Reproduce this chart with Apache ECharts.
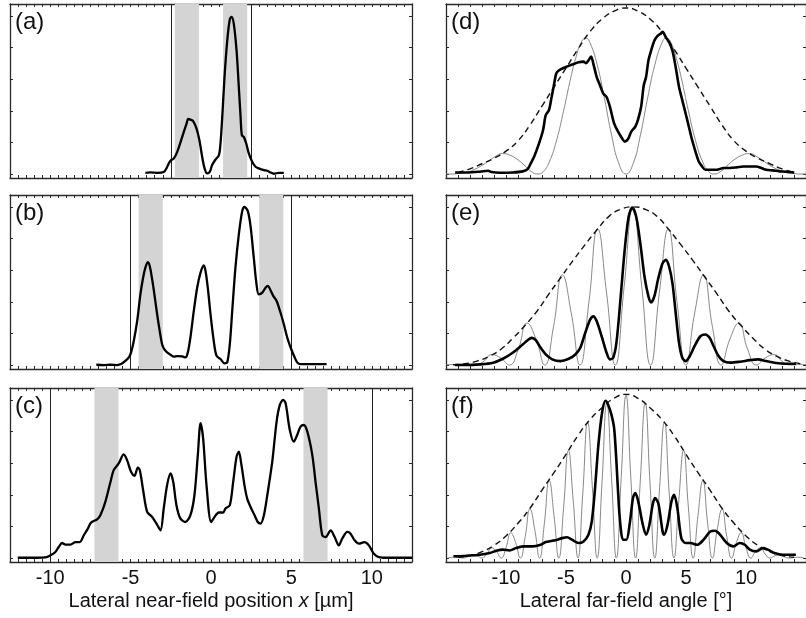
<!DOCTYPE html>
<html>
<head>
<meta charset="utf-8">
<script src="https://cdn.jsdelivr.net/npm/echarts@6/dist/echarts.min.js"></script>
<style>
html,body{margin:0;padding:0;background:#fff}
#chart{width:806px;height:618px}
</style>
</head>
<body>
<div id="chart"></div>
<script>
// ---- Near-field intensity profiles: [x in µm, normalised intensity] ----
const nearA = [[-4.08,0.008],[-3.76,0.010],[-3.35,0.008],[-2.94,0.013],[-2.77,0.036],[-2.63,0.067],[-2.48,0.088],[-2.31,0.099],[-2.10,0.140],[-1.79,0.235],[-1.52,0.319],[-1.42,0.348],[-1.28,0.344],[-1.11,0.335],[-0.90,0.287],[-0.72,0.214],[-0.55,0.109],[-0.40,0.036],[-0.24,0.004],[-0.07,0.015],[0.07,0.057],[0.28,0.092],[0.49,0.119],[0.59,0.193],[0.70,0.361],[0.84,0.612],[1.01,0.843],[1.17,0.979],[1.28,0.994],[1.42,0.948],[1.59,0.780],[1.73,0.55],[1.84,0.36],[1.92,0.245],[2.04,0.235],[2.19,0.193],[2.35,0.130],[2.56,0.078],[2.77,0.046],[2.97,0.036],[3.29,0.025],[3.50,0.021],[3.70,0.010],[3.91,0.002],[4.22,0.008],[4.53,0.008]];
const nearB = [[-7.13,0.002],[-6.67,0.0],[-6.25,0.002],[-5.84,0.0],[-5.59,0.006],[-5.32,0.027],[-5.11,0.048],[-4.97,0.080],[-4.80,0.153],[-4.59,0.279],[-4.39,0.447],[-4.22,0.553],[-4.08,0.616],[-3.93,0.651],[-3.81,0.626],[-3.66,0.542],[-3.52,0.447],[-3.35,0.321],[-3.19,0.216],[-3.04,0.132],[-2.89,0.097],[-2.73,0.080],[-2.52,0.065],[-2.31,0.053],[-2.10,0.057],[-1.79,0.055],[-1.59,0.048],[-1.44,0.080],[-1.28,0.174],[-1.07,0.342],[-0.86,0.489],[-0.65,0.584],[-0.45,0.630],[-0.34,0.595],[-0.20,0.489],[-0.03,0.321],[0.17,0.153],[0.34,0.059],[0.59,0.038],[0.84,0.011],[1.01,0.017],[1.17,0.132],[1.32,0.342],[1.52,0.616],[1.73,0.826],[1.94,0.973],[2.08,1.0],[2.29,0.973],[2.46,0.878],[2.66,0.679],[2.83,0.511],[2.97,0.447],[3.19,0.458],[3.39,0.489],[3.54,0.500],[3.70,0.473],[3.87,0.437],[4.08,0.405],[4.32,0.332],[4.53,0.258],[4.74,0.174],[4.95,0.111],[5.16,0.059],[5.36,0.017],[5.57,0.006],[5.99,0.006],[6.40,0.006],[6.81,0.006],[7.19,0.006]];
const nearC = [[-12.02,0.002],[-11.44,0.002],[-10.82,0.002],[-10.30,0.004],[-9.99,0.017],[-9.68,0.038],[-9.47,0.070],[-9.26,0.095],[-9.05,0.085],[-8.74,0.085],[-8.43,0.101],[-8.16,0.101],[-7.91,0.144],[-7.66,0.186],[-7.46,0.224],[-7.08,0.245],[-6.88,0.271],[-6.57,0.355],[-6.25,0.482],[-6.05,0.556],[-5.74,0.598],[-5.43,0.655],[-5.22,0.619],[-4.97,0.545],[-4.76,0.520],[-4.55,0.571],[-4.43,0.556],[-4.22,0.429],[-3.97,0.292],[-3.66,0.260],[-3.39,0.218],[-3.14,0.175],[-2.94,0.313],[-2.73,0.461],[-2.52,0.535],[-2.35,0.482],[-2.15,0.334],[-1.90,0.249],[-1.59,0.228],[-1.28,0.271],[-1.03,0.397],[-0.82,0.651],[-0.65,0.852],[-0.49,0.757],[-0.28,0.461],[0.01,0.228],[0.22,0.260],[0.49,0.288],[0.76,0.288],[0.90,0.313],[1.17,0.334],[1.38,0.482],[1.59,0.641],[1.73,0.672],[1.88,0.598],[2.08,0.461],[2.25,0.376],[2.46,0.323],[2.71,0.271],[2.91,0.228],[3.08,0.218],[3.29,0.271],[3.50,0.397],[3.81,0.609],[4.08,0.863],[4.28,0.968],[4.49,1.0],[4.64,0.979],[4.90,0.810],[5.15,0.736],[5.36,0.778],[5.57,0.831],[5.77,0.841],[5.99,0.799],[6.30,0.651],[6.50,0.482],[6.71,0.313],[6.92,0.144],[7.13,0.133],[7.44,0.175],[7.69,0.133],[7.95,0.080],[8.16,0.123],[8.48,0.165],[8.68,0.154],[8.93,0.112],[9.20,0.091],[9.55,0.101],[9.82,0.080],[10.13,0.027],[10.44,0.006],[10.96,0.002],[11.69,0.002],[12.5,0.002]];

// Ridge edges (vertical lines) and shaded regions per near-field panel
const ridgeA = [-2.5, 2.5];
const ridgeB = [-5, 5];
const ridgeC = [-10, 10];
const shadeA = [[-2.25, -0.75], [0.75, 2.25]];
const shadeB = [[-4.5, -3.0], [3.0, 4.5]];
const shadeC = [[-7.25, -5.75], [5.75, 7.25]];

// ---- Far-field profiles: [angle in deg, intensity] ----
const farMeasD = [[-14.24,0.010],[-13.28,0.010],[-12.18,0.015],[-11.50,0.021],[-11.22,0.013],[-10.53,0.008],[-9.44,0.010],[-8.61,0.017],[-8.20,0.031],[-7.93,0.069],[-7.65,0.111],[-7.24,0.195],[-6.91,0.278],[-6.69,0.372],[-6.42,0.404],[-6.20,0.487],[-6.01,0.561],[-5.82,0.634],[-5.60,0.655],[-5.05,0.676],[-4.50,0.692],[-3.95,0.707],[-3.54,0.711],[-3.35,0.701],[-3.13,0.718],[-2.91,0.743],[-2.72,0.697],[-2.44,0.613],[-2.17,0.561],[-1.89,0.508],[-1.62,0.487],[-1.34,0.425],[-0.99,0.320],[-0.66,0.268],[-0.33,0.226],[-0.11,0.205],[0.16,0.220],[0.44,0.268],[0.77,0.299],[0.99,0.341],[1.26,0.425],[1.48,0.561],[1.67,0.613],[1.87,0.718],[2.09,0.780],[2.36,0.843],[2.63,0.874],[2.91,0.889],[3.05,0.900],[3.32,0.864],[3.59,0.833],[3.87,0.780],[4.14,0.676],[4.42,0.550],[4.69,0.467],[4.97,0.383],[5.24,0.299],[5.51,0.215],[5.79,0.142],[6.06,0.079],[6.34,0.048],[6.61,0.027],[7.02,0.027],[7.57,0.027],[8.12,0.038],[8.67,0.038],[9.22,0.042],[9.77,0.048],[10.32,0.048],[10.86,0.048],[11.28,0.038],[11.69,0.027],[12.24,0.023],[12.78,0.017],[13.33,0.015],[14.02,0.010]];
const farCalcD = [[-15,0.001],[-14.6,0],[-14.0,0.003],[-13.3,0.01],[-12.7,0.027],[-12.1,0.05],[-11.5,0.08],[-10.9,0.11],[-10.3,0.13],[-9.7,0.12],[-9.1,0.095],[-8.5,0.058],[-7.9,0.017],[-7.35,0],[-6.9,0.015],[-6.4,0.075],[-5.8,0.21],[-5.2,0.40],[-4.6,0.61],[-4.2,0.73],[-3.75,0.83],[-3.35,0.86],[-3.0,0.83],[-2.4,0.69],[-1.8,0.48],[-1.2,0.246],[-0.6,0.067],[0,0],[0.6,0.067],[1.2,0.246],[1.8,0.48],[2.4,0.69],[3.0,0.83],[3.35,0.86],[3.75,0.83],[4.2,0.73],[4.6,0.61],[5.2,0.40],[5.8,0.21],[6.4,0.075],[6.9,0.015],[7.35,0],[7.9,0.017],[8.5,0.058],[9.1,0.095],[9.7,0.12],[10.3,0.13],[10.9,0.11],[11.5,0.08],[12.1,0.05],[12.7,0.027],[13.3,0.01],[14.0,0.003],[14.6,0],[15,0.001]];
const farEnvD = [[-14,0.01],[-13,0.033],[-12,0.065],[-11,0.10],[-10,0.145],[-9,0.21],[-8,0.31],[-7,0.43],[-6,0.55],[-5,0.67],[-4,0.79],[-3,0.90],[-2,0.98],[-1,1.03],[0,1.05],[1,1.03],[2,0.98],[3,0.90],[4,0.79],[5,0.67],[6,0.55],[7,0.43],[8,0.31],[9,0.21],[10,0.145],[11,0.10],[12,0.065],[13,0.033],[14,0.01]];

const farMeasE = [[-14.24,0],[-13.28,0],[-12.18,0.004],[-11.08,0.015],[-10.26,0.040],[-9.44,0.078],[-8.61,0.130],[-8.20,0.157],[-7.85,0.172],[-7.52,0.157],[-7.11,0.109],[-6.69,0.067],[-6.15,0.036],[-5.46,0.025],[-4.77,0.040],[-4.22,0.067],[-3.81,0.109],[-3.40,0.203],[-2.99,0.287],[-2.72,0.308],[-2.44,0.277],[-2.03,0.182],[-1.62,0.078],[-1.34,0.036],[-1.07,0.046],[-0.80,0.140],[-0.44,0.434],[-0.11,0.727],[0.22,0.937],[0.52,0.996],[0.85,0.937],[1.21,0.759],[1.54,0.560],[1.87,0.434],[2.09,0.396],[2.36,0.434],[2.69,0.549],[3.05,0.644],[3.32,0.665],[3.59,0.623],[3.87,0.518],[4.14,0.329],[4.42,0.140],[4.69,0.046],[4.97,0.025],[5.32,0.057],[5.71,0.119],[6.20,0.182],[6.61,0.193],[6.97,0.172],[7.30,0.119],[7.71,0.057],[8.12,0.025],[8.67,0.015],[9.49,0.021],[10.32,0.031],[11.00,0.036],[11.69,0.025],[12.37,0.015],[13.33,0.008],[14.16,0.008]];
const farCalcE = [[-15,0.002],[-14.12,0.004],[-13.385,0.005],[-12.65,0],[-11.915,0.02],[-11.18,0.066],[-10.445,0.045],[-9.71,0],[-8.975,0.10],[-8.24,0.265],[-7.505,0.165],[-6.77,0],[-6.035,0.245],[-5.30,0.57],[-4.565,0.33],[-3.83,0],[-3.095,0.395],[-2.36,0.86],[-1.625,0.46],[-0.89,0],[-0.155,0.495],[0.58,1.0],[1.315,0.495],[2.05,0],[2.785,0.46],[3.52,0.86],[4.255,0.395],[4.99,0],[5.725,0.33],[6.46,0.57],[7.195,0.245],[7.93,0],[8.665,0.165],[9.40,0.265],[10.135,0.10],[10.87,0],[11.605,0.045],[12.34,0.066],[13.075,0.02],[13.81,0],[14.545,0.004],[15,0.003]];
const farEnvE = [[-14.42,0.002],[-13.42,0.008],[-12.42,0.025],[-11.42,0.055],[-10.42,0.10],[-9.42,0.17],[-8.42,0.25],[-7.42,0.34],[-6.42,0.45],[-5.42,0.555],[-4.42,0.66],[-3.42,0.76],[-2.42,0.855],[-1.42,0.94],[-0.42,0.985],[0.58,1.0],[1.58,0.985],[2.58,0.94],[3.58,0.855],[4.58,0.76],[5.58,0.66],[6.58,0.555],[7.58,0.45],[8.58,0.34],[9.58,0.25],[10.58,0.17],[11.58,0.10],[12.58,0.055],[13.58,0.025],[14.58,0.008]];

const farMeasF = [[-14.38,0.011],[-13.28,0.015],[-12.18,0.021],[-11.36,0.032],[-10.81,0.046],[-10.26,0.053],[-9.71,0.048],[-9.16,0.063],[-8.48,0.074],[-7.79,0.074],[-7.11,0.084],[-6.69,0.101],[-6.15,0.109],[-5.73,0.116],[-5.32,0.126],[-4.91,0.131],[-4.50,0.116],[-3.95,0.095],[-3.54,0.105],[-3.13,0.147],[-2.85,0.232],[-2.58,0.442],[-2.30,0.716],[-1.98,0.926],[-1.71,0.994],[-1.48,0.968],[-1.21,0.905],[-0.99,0.821],[-0.80,0.611],[-0.60,0.337],[-0.44,0.189],[-0.25,0.116],[0.03,0.116],[0.30,0.211],[0.58,0.379],[0.77,0.411],[0.99,0.368],[1.40,0.211],[1.67,0.147],[1.95,0.211],[2.22,0.337],[2.41,0.379],[2.69,0.347],[3.05,0.168],[3.18,0.147],[3.46,0.211],[3.79,0.358],[4.01,0.400],[4.28,0.316],[4.61,0.126],[4.97,0.095],[5.38,0.095],[5.93,0.084],[6.47,0.116],[7.02,0.168],[7.43,0.173],[7.85,0.147],[8.40,0.095],[8.94,0.074],[9.49,0.095],[9.90,0.084],[10.32,0.053],[10.86,0.042],[11.41,0.063],[11.82,0.053],[12.37,0.032],[13.06,0.021],[14.16,0.021]];
const farCalcF = [[-14.8,0.002],[-14.4,0.005],[-14.0,0.0035],[-13.6,0],[-13.2,0.007],[-12.8,0.02],[-12.4,0.014],[-12.0,0],[-11.6,0.025],[-11.2,0.065],[-10.8,0.042],[-10.4,0],[-10.0,0.065],[-9.6,0.16],[-9.2,0.098],[-8.8,0],[-8.4,0.135],[-8.0,0.31],[-7.6,0.178],[-7.2,0],[-6.8,0.222],[-6.4,0.49],[-6.0,0.27],[-5.6,0],[-5.2,0.318],[-4.8,0.68],[-4.4,0.365],[-4.0,0],[-3.6,0.41],[-3.2,0.86],[-2.8,0.445],[-2.4,0],[-2.0,0.475],[-1.6,0.98],[-1.2,0.50],[-0.8,0],[-0.4,0.51],[0,1.03],[0.4,0.51],[0.8,0],[1.2,0.50],[1.6,0.98],[2.0,0.475],[2.4,0],[2.8,0.445],[3.2,0.86],[3.6,0.41],[4.0,0],[4.4,0.365],[4.8,0.68],[5.2,0.318],[5.6,0],[6.0,0.27],[6.4,0.49],[6.8,0.222],[7.2,0],[7.6,0.178],[8.0,0.31],[8.4,0.135],[8.8,0],[9.2,0.098],[9.6,0.16],[10.0,0.065],[10.4,0],[10.8,0.042],[11.2,0.065],[11.6,0.025],[12.0,0],[12.4,0.014],[12.8,0.02],[13.2,0.007],[13.6,0],[14.0,0.0035],[14.4,0.005],[14.8,0.002]];
const farEnvF = [[-14,0.005],[-13,0.015],[-12,0.04],[-11,0.08],[-10,0.14],[-9,0.22],[-8,0.315],[-7,0.43],[-6,0.54],[-5,0.655],[-4,0.775],[-3,0.875],[-2,0.95],[-1,1.01],[0,1.035],[1,1.01],[2,0.95],[3,0.875],[4,0.775],[5,0.655],[6,0.54],[7,0.43],[8,0.315],[9,0.22],[10,0.14],[11,0.08],[12,0.04],[13,0.015],[14,0.005]];

// ---- Axis ticks and labels ----
const nearLabels = [-10, -5, 0, 5, 10];
const farLabels = [-10, -5, 0, 5, 10];
const intensityTicks = [0, 0.2, 0.4, 0.6, 0.8, 1.0];
const panelNames = ['(a)', '(b)', '(c)', '(d)', '(e)', '(f)'];
const nearTitle = 'Lateral near-field position {i|x} [µm]';
const farTitle = 'Lateral far-field angle [°]';

const nearTickValues = [];
for (let v = -12.5; v <= 12.5001; v += 0.5) nearTickValues.push(+v.toFixed(2));
const farTickValues = [];
for (let v = -15; v <= 15; v += 1) farTickValues.push(v);

// ---- Layout ----
const FONT = 'Liberation Sans, Arial, Helvetica, sans-serif';
const rowTop = [4, 195, 388];
const rowH = 174;
const colLeft = [10, 446];
const colW = [402, 362];
const frame = '#2a2a2a';

const grids = [], xAxes = [], yAxes = [], series = [];

function addPanel(idx, col, row, cfg) {
  grids.push({ left: colLeft[col], top: rowTop[row], width: colW[col], height: rowH });
  const isBottom = row === 2;
  const xBase = {
    gridIndex: idx, type: 'value', min: cfg.xmin, max: cfg.xmax,
    axisLine: { show: true, onZero: false, lineStyle: { color: frame, width: 1.3 } },
    axisTick: { show: true, inside: true, length: 3, customValues: cfg.ticks, lineStyle: { color: frame, width: 1 } },
    splitLine: { show: false }
  };
  xAxes.push(Object.assign({}, xBase, {
    position: 'bottom',
    axisLabel: { show: isBottom, customValues: cfg.labels, fontSize: 20, color: '#111', fontFamily: FONT, margin: 6 },
    name: isBottom ? cfg.title : '',
    nameLocation: 'middle', nameGap: 29,
    nameTextStyle: { fontSize: 20, color: '#111', fontFamily: FONT, rich: { i: { fontStyle: 'italic', fontSize: 20, color: '#111', fontFamily: FONT } } }
  }));
  xAxes.push(Object.assign({}, xBase, { position: 'top', axisLabel: { show: false } }));
  const yBase = {
    gridIndex: idx, type: 'value', min: -0.025, max: 1.075,
    axisLine: { show: true, onZero: false, lineStyle: { color: frame, width: 1.3 } },
    axisTick: { show: true, inside: true, length: 3, customValues: intensityTicks, lineStyle: { color: frame, width: 1 } },
    axisLabel: { show: false },
    splitLine: { show: false }
  };
  yAxes.push(Object.assign({}, yBase, { position: 'left' }));
  yAxes.push(Object.assign({}, yBase, { position: 'right' }));
}

function nearSeries(idx, data, ridge, shade) {
  series.push({
    type: 'line', xAxisIndex: 2 * idx, yAxisIndex: 2 * idx, data: data,
    showSymbol: false, smooth: 0.3, z: 5,
    lineStyle: { color: '#000', width: 2.3 },
    markArea: {
      silent: true, z: 1,
      itemStyle: { color: '#d4d4d4' },
      data: shade.map(s => [{ xAxis: s[0] }, { xAxis: s[1] }])
    },
    markLine: {
      silent: true, symbol: 'none', z: 2,
      label: { show: false },
      lineStyle: { color: '#222', width: 1, type: 'solid' },
      data: ridge.map(r => ({ xAxis: r }))
    }
  });
}

function farSeries(idx, calc, env, meas) {
  series.push({
    type: 'line', xAxisIndex: 2 * idx, yAxisIndex: 2 * idx, data: calc,
    showSymbol: false, smooth: 0.5, z: 2,
    lineStyle: { color: '#7a7a7a', width: 0.9 }
  });
  series.push({
    type: 'line', xAxisIndex: 2 * idx, yAxisIndex: 2 * idx, data: env,
    showSymbol: false, smooth: 0.5, z: 3,
    lineStyle: { color: '#111', width: 1.4, type: [6, 4] }
  });
  series.push({
    type: 'line', xAxisIndex: 2 * idx, yAxisIndex: 2 * idx, data: meas,
    showSymbol: false, smooth: 0.3, z: 4,
    lineStyle: { color: '#000', width: 2.6 }
  });
}

const nearCfg = { xmin: -12.5, xmax: 12.5, ticks: nearTickValues, labels: nearLabels, title: nearTitle };
const farCfg = { xmin: -15, xmax: 15, ticks: farTickValues, labels: farLabels, title: farTitle };

addPanel(0, 0, 0, nearCfg); nearSeries(0, nearA, ridgeA, shadeA);
addPanel(1, 0, 1, nearCfg); nearSeries(1, nearB, ridgeB, shadeB);
addPanel(2, 0, 2, nearCfg); nearSeries(2, nearC, ridgeC, shadeC);
addPanel(3, 1, 0, farCfg);  farSeries(3, farCalcD, farEnvD, farMeasD);
addPanel(4, 1, 1, farCfg);  farSeries(4, farCalcE, farEnvE, farMeasE);
addPanel(5, 1, 2, farCfg);  farSeries(5, farCalcF, farEnvF, farMeasF);

// Panel letters
const graphics = panelNames.map((t, i) => ({
  type: 'text',
  left: colLeft[i < 3 ? 0 : 1] + 5,
  top: rowTop[i % 3] + 6,
  style: { text: t, fontSize: 24, fontFamily: FONT, fill: '#111' },
  z: 100
}));

const chart = echarts.init(document.getElementById('chart'), null, { renderer: 'canvas' });
chart.setOption({
  animation: false,
  backgroundColor: '#fff',
  grid: grids,
  xAxis: xAxes,
  yAxis: yAxes,
  series: series,
  graphic: graphics
});
</script>
</body>
</html>
